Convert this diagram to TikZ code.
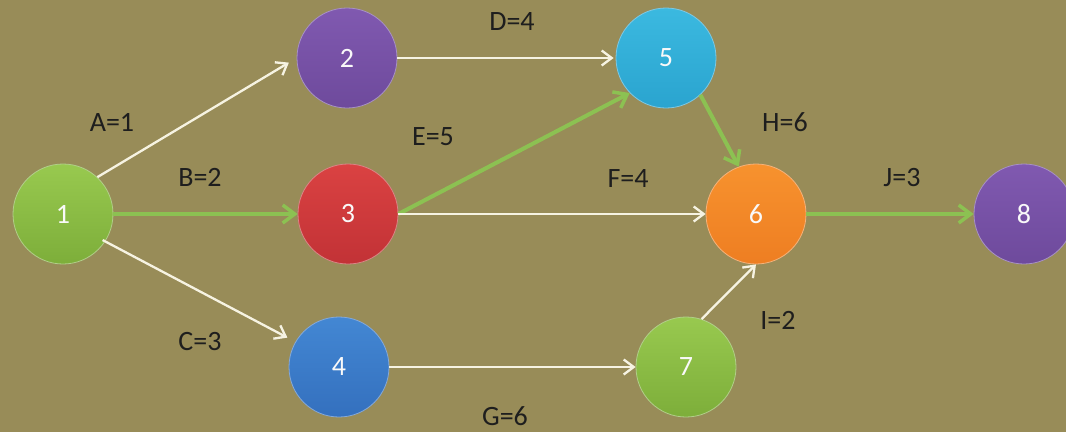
\documentclass[tikz,border=0pt]{standalone}
\usepackage{fontspec}
\setmainfont{Carlito}
\usetikzlibrary{arrows.meta}
\definecolor{bg}{HTML}{988C58}
\definecolor{gtop}{HTML}{98C94F}
\definecolor{gbot}{HTML}{7DAE3A}
\definecolor{ptop}{HTML}{8059B0}
\definecolor{pbot}{HTML}{6E4A9C}
\definecolor{rtop}{HTML}{DA4242}
\definecolor{rbot}{HTML}{C23236}
\definecolor{btop}{HTML}{4387D3}
\definecolor{bbot}{HTML}{3470BE}
\definecolor{ctop}{HTML}{3BB9E0}
\definecolor{cbot}{HTML}{2AA4CF}
\definecolor{otop}{HTML}{F7922E}
\definecolor{obot}{HTML}{EE7E22}
\definecolor{garrow}{HTML}{8CC152}
\definecolor{warrow}{HTML}{F6F3E2}
\definecolor{lbl}{HTML}{1E1E1E}
\tikzset{
  ev/.style={circle, minimum size=100pt, inner sep=0pt, draw=#1!60!white, line width=0.8pt,
     font=\fontsize{28}{32}\selectfont, text=white!95!gray},
  evg/.style={ev=gbot, top color=gtop, bottom color=gbot},
  evp/.style={ev=pbot, top color=ptop, bottom color=pbot},
  evr/.style={ev=rbot, top color=rtop, bottom color=rbot},
  evb/.style={ev=bbot, top color=btop, bottom color=bbot},
  evc/.style={ev=cbot, top color=ctop, bottom color=cbot},
  evo/.style={ev=obot, top color=otop, bottom color=obot},
  act/.style={draw=warrow, line width=2.3pt, -{Straight Barb[length=10pt,width=15pt,line width=2.3pt]}},
  crit/.style={draw=garrow, line width=4pt, -{Straight Barb[length=12pt,width=18pt,line width=3.5pt]}},
  lab/.style={font=\fontsize{28}{32}\selectfont, text=lbl, inner sep=0pt}
}
\begin{document}
\begin{tikzpicture}[x=1pt,y=-1pt]
\fill[bg] (0,0) rectangle (1066,432);
\useasboundingbox (0,0) rectangle (1066,432);
\node[evg] (n1) at (63,214) {1};
\node[evp] (n2) at (347,58) {2};
\node[evr] (n3) at (348,214) {3};
\node[evb] (n4) at (339,367) {4};
\node[evc] (n5) at (666,58) {5};
\node[evo] (n6) at (756,214) {6};
\node[evg] (n7) at (686,367) {7};
\node[evp] (n8) at (1024,214) {8};

\draw[act, shorten >=9pt] (n1.47) -- (n2.west);
\draw[act, shorten <=-3pt, shorten >=9pt] (n1.-33) -- (n4.150);
\draw[act, shorten >=2pt] (n2.east) -- (n5.west);
\draw[crit] (n1.east) -- (n3.west);
\draw[crit] (n3.east) -- (n5.224);
\draw[act] (n3.east) -- (n6.west);
\draw[act] (n4.east) -- (n7.west);
\draw[crit] (n5.-47) -- (n6.110);
\draw[act] (n7.72) -- (n6.south);
\draw[crit] (n6.east) -- (n8.west);

\node[lab] (la) at (112,122) {A=1};
\node[lab] (lb) at (200,177) {B=2};
\node[lab] (lc) at (200,342) {C=3};
\node[lab] (ld) at (512,22) {D=4};
\node[lab] (le) at (433,137) {E=5};
\node[lab] (lf) at (628,179) {F=4};
\node[lab] (lg) at (505,416) {G=6};
\node[lab] (lh) at (785,122) {H=6};
\node[lab] (li) at (778,320) {I=2};
\node[lab] (lj) at (902,178) {J=3};
\end{tikzpicture}
\end{document}
